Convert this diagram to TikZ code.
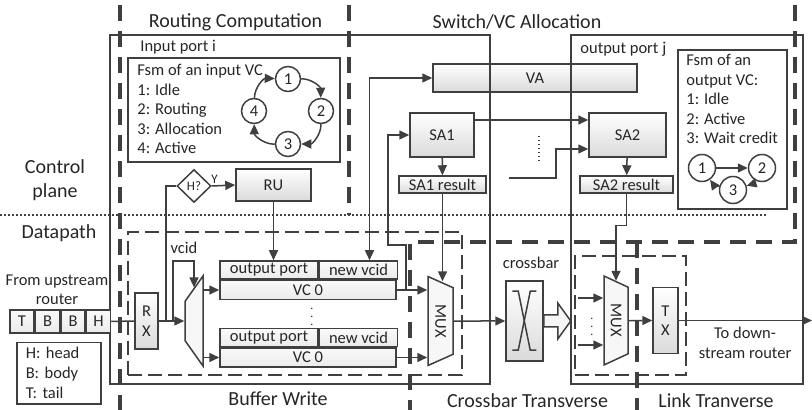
\documentclass[tikz,border=0pt]{standalone}
\usepackage{fontspec}
\setmainfont{Carlito}
\usepackage{tikz}
\usetikzlibrary{shapes.geometric,arrows.meta,positioning,calc}
\definecolor{linea}{HTML}{3F3F3F}
\definecolor{texto}{HTML}{262626}
\definecolor{relleno}{HTML}{DADADA}
\newcommand{\fuentechica}{\fontsize{8.25}{9.75}\selectfont}
\newcommand{\fuentemini}{\fontsize{6.5}{7}\selectfont}
\newcommand{\fuentetitulo}{\fontsize{10}{12}\selectfont}
\tikzset{
  caja/.style={draw=linea,line width=0.75pt,top color=white,bottom color=relleno,font=\fuentechica,text=texto,inner sep=0pt,align=center},
  celda/.style={caja,top color=gray!4,bottom color=gray!16,minimum height=9pt},
  flit/.style={celda,minimum width=12pt,minimum height=11.5pt},
  marco/.style={draw=linea,line width=0.75pt,inner sep=0pt},
  cajablanca/.style={draw=linea,line width=0.75pt,fill=white,font=\fuentechica,text=texto},
  zona/.style={draw=linea,line width=0.7pt,dash pattern=on 7pt off 3pt,inner sep=0pt},
  frontera/.style={draw=linea,line width=2pt,dash pattern=on 8pt off 5pt},
  punteado/.style={draw=linea,line width=0.75pt,dash pattern=on 0.75pt off 1.25pt},
  estado/.style={circle,draw=linea,line width=0.75pt,fill=white,minimum size=12.5pt,inner sep=0pt,font=\fuentechica,text=texto},
  mux/.style={trapezium,trapezium angle=67,trapezium stretches=true,draw=linea,line width=0.75pt,fill=gray!6,inner sep=1pt,font=\fuentechica,text=texto},
  flecha/.style={-{Triangle[length=5pt,width=4.5pt]},line width=0.75pt,linea},
  flechadoble/.style={{Triangle[length=5pt,width=4.5pt]}-{Triangle[length=5pt,width=4.5pt]},line width=0.75pt,linea},
  conector/.style={line width=0.75pt,linea},
  hueca/.style={draw=linea,line width=0.75pt,fill=gray!8},
  etiqueta/.style={font=\fuentechica,text=texto,inner sep=0pt},
  titulo/.style={font=\fuentetitulo,text=texto,inner sep=0pt},
}
\begin{document}
\begin{tikzpicture}[x=0.5pt,y=-0.5pt]
  \useasboundingbox (0,0) rectangle (812,410);
  % allocation blocks
  \node[caja,minimum width=102pt,minimum height=14pt] (va) at (535,78) {VA};
  \node[caja,minimum width=32pt,minimum height=22pt] (sa1) at (442,135) {SA1};
  \node[caja,minimum width=43.5pt,minimum height=8.5pt] (sa1r) at (442.5,184.5) {SA1 result};
  \node[caja,minimum width=38.5pt,minimum height=22pt] (sa2) at (627.5,135) {SA2};
  \node[caja,minimum width=46.5pt,minimum height=8.5pt] (sa2r) at (626.5,184.5) {SA2 result};
  \node[caja,minimum width=37.5pt,minimum height=16pt] (ru) at (273.5,185) {RU};
  \node[diamond,draw=linea,line width=0.75pt,fill=white,minimum width=17pt,minimum height=16.5pt,inner sep=0pt,font=\fuentemini,text=texto] (hq) at (194,186) {H?};
  % ports
  \node[marco,minimum width=190pt,minimum height=174.5pt] (pin) at (300,209.5) {};
  \node[etiqueta,anchor=north west] (tpin) at (140,40) {Input port i};
  \node[marco,minimum width=116pt,minimum height=174.5pt] (pout) at (687,209.5) {};
  \node[etiqueta,anchor=north west] (tpout) at (580,42) {output port j};
  % fsm of the input VC
  \node[cajablanca,minimum width=106pt,minimum height=52pt,inner sep=0pt] (fsmE) at (234,110) {};
  \node[etiqueta,anchor=north west,align=left] (tfsmE) at (137,64) {Fsm of an input VC\\1: Idle\\2: Routing\\3: Allocation\\4: Active};
  \node[estado] (e1) at (288,79) {1};
  \node[estado] (e2) at (321,111) {2};
  \node[estado] (e3) at (288,144) {3};
  \node[estado] (e4) at (254,111) {4};
  \draw[flecha] (e1) to[bend left=45] (e2);
  \draw[flecha] (e2) to[bend left=45] (e3);
  \draw[flecha] (e3) to[bend left=45] (e4);
  \draw[flecha] (e4) to[bend left=45] (e1);
  % fsm of the output VC
  \node[cajablanca,minimum width=54.5pt,minimum height=79.5pt,inner sep=0pt] (fsmS) at (732.5,129.5) {};
  \node[etiqueta,anchor=north west,align=left] (tfsmS) at (686,54) {Fsm of an\\output VC:\\1: Idle\\2: Active\\3: Wait credit};
  \node[estado,minimum size=13.5pt] (s1) at (702,168) {1};
  \node[estado,minimum size=13.5pt] (s2) at (762,168) {2};
  \node[estado,minimum size=13.5pt] (s3) at (733,190) {3};
  \draw[flecha] (s1) -- (s2);
  \draw[flecha] (s2) to[bend left=20] (s3);
  \draw[flecha] (s3) to[bend left=20] (s1);
  % datapath
  \node[zona,minimum width=167pt,minimum height=71.5pt] (zbw) at (295,303.5) {};
  \node[zona,minimum width=55.5pt,minimum height=59.5pt] (zct) at (630.5,315.5) {};
  \node[flit] (fT) at (22,321.5) {T};
  \node[flit,right=0pt of fT] (fB1) {B};
  \node[flit,right=0pt of fB1] (fB2) {B};
  \node[flit,right=0pt of fB2] (fH) {H};
  \node[etiqueta,align=center,font=\fontsize{8.25}{9.5}\selectfont] (tup) at (57,290) {From upstream\\router};
  \node[cajablanca,anchor=north west,align=left,text width=33pt,inner xsep=4.5pt,inner ysep=2pt,minimum height=30.5pt,font=\fontsize{8.25}{10}\selectfont] (leyenda) at (16,342) {H: head\\B: body\\T: tail};
  \node[caja,minimum width=11.5pt,minimum height=28pt] (rx) at (146.5,321) {R\\X};
  \node[mux,rotate=90,trapezium angle=57,minimum width=45pt,minimum height=9pt] (demux) at (194,321) {};
  \node[celda,minimum width=49pt] (opA) at (269,270) {output port};
  \node[celda,minimum width=39pt,right=0pt of opA] (nvA) {new vcid};
  \node[celda,minimum width=88pt,minimum height=9.5pt,anchor=north west] (vcA) at (opA.south west) {VC 0};
  \node[celda,minimum width=49pt] (opB) at (269,337.5) {output port};
  \node[celda,minimum width=39pt,right=0pt of opB] (nvB) {new vcid};
  \node[celda,minimum width=88pt,minimum height=9.5pt,anchor=north west] (vcB) at (opB.south west) {VC 0};
  \node[etiqueta,font=\fontsize{6}{6}\selectfont] (ptsVC) at (312,311) {$\vdots$};
  \node[mux,rotate=-90,minimum width=44.5pt,minimum height=12.5pt] (mux1) at (440.5,321) {MUX};
  \node[caja,minimum width=18.5pt,minimum height=40pt] (xbar) at (524.5,321) {};
  \node[mux,rotate=-90,minimum width=44.5pt,minimum height=12pt] (mux2) at (616,320.5) {MUX};
  \node[etiqueta,font=\fontsize{6}{6}\selectfont] (ptsX) at (592,321) {$\vdots$};
  \node[caja,minimum width=12.5pt,minimum height=33pt] (tx) at (665.5,320.5) {T\\X};
  \node[etiqueta] (tvcid) at (184,248) {vcid};
  \node[etiqueta] (txbar) at (531,263) {crossbar};
  \node[etiqueta,align=center] (tdown) at (745,343) {To down-\\stream router};
  % stage titles
  \node[titulo] (tRC) at (235.5,22) {Routing Computation};
  \node[titulo] (tSA) at (517,22) {Switch/VC Allocation};
  \node[titulo] (tBW) at (278,399) {Buffer Write};
  \node[titulo] (tCT) at (527.5,401) {Crossbar Transverse};
  \node[titulo] (tLT) at (716,401) {Link Tranverse};
  \node[titulo,align=center] (tCP) at (55,180) {Control\\plane};
  \node[titulo] (tDP) at (59,233) {Datapath};
  % connectors
  \coordinate (ramaH) at (166,321);
  \coordinate (ramaV) at (173,321);
  \coordinate (otraSA) at (509,178);
  \coordinate (entA) at (578,298);
  \coordinate (entB) at (578,345);
  \coordinate (salida) at (812,320.5);
  \draw[conector] (fH.east) -- (rx.west);
  \draw[flecha] (rx.east) -- (demux.north);
  \draw[conector] (ramaH) |- (hq.west);
  \draw[flecha] (hq.east) -- node[etiqueta,font=\fuentemini,above,pos=0.12,yshift=1pt] (ty) {Y} (ru.west);
  \draw[flecha] (ramaV) -- ++(0,-60) -| (demux.east);
  \draw[flecha] (vcA.west -| demux.south) -- (vcA.west);
  \draw[flecha] (vcB.west -| demux.south) -- (vcB.west);
  \draw[flecha] (ru.south) -- (ru.south |- opA.north);
  \draw[flechadoble] (va.west) -| ([xshift=5.5pt]nvA.north);
  \draw[flecha] ($(vcA.east)+(9,0)$) -- ++(0,-45) -- ++(-18,0) |- (sa1.west);
  \draw[flecha] (sa1) -- (sa1r);
  \draw[flecha] (sa1r.south) -- (sa1r.south |- mux1.west);
  \draw[flecha] ([yshift=7.5pt]sa1.east) -- ([yshift=7.5pt]sa2.west);
  \draw[flecha] (otraSA) -- ++(47,0) |- ([yshift=-7pt]sa2.west);
  \draw[punteado] (539,136) -- (539,162);
  \draw[flecha] (sa2) -- (sa2r);
  \draw[flecha] (sa2r.south) -- ++(0,32) -| (mux2.west);
  \draw[flecha] (vcA.east) -- (vcA.east -| mux1.south);
  \draw[flecha] (vcB.east) -- (vcB.east -| mux1.south);
  \draw[flecha] (mux1.north) -- (xbar.west);
  \draw[conector] ([shift={(7,11)}]xbar.north west) -- ++(6,0) -- ++(12,59) -- ++(6,0);
  \draw[conector] ([shift={(31,11)}]xbar.north west) -- ++(-6,0) -- ++(-12,59) -- ++(-6,0);
  \draw[hueca] (xbar.east) ++(0,-6) -- ++(14,0) -- ++(0,-12) -- ++(13,18) -- ++(-13,18) -- ++(0,-12) -- ++(-14,0) -- cycle;
  \draw[flecha] (entA) -- (entA -| mux2.south);
  \draw[flecha] (entB) -- (entB -| mux2.south);
  \draw[flecha] (mux2.north) -- (tx.west);
  \draw[flecha] (tx.east) -- (salida);
  % stage borders
  \draw[punteado] (0,215) -- (768,215);
  \draw[frontera] (120,5) -- (120,410);
  \draw[frontera] (349,5) -- (349,215);
  \draw[frontera] (795,5) -- (795,242) -- (410,242) -- (410,410);
  \draw[frontera] (637,242) -- (637,410);
\end{tikzpicture}
\end{document}
